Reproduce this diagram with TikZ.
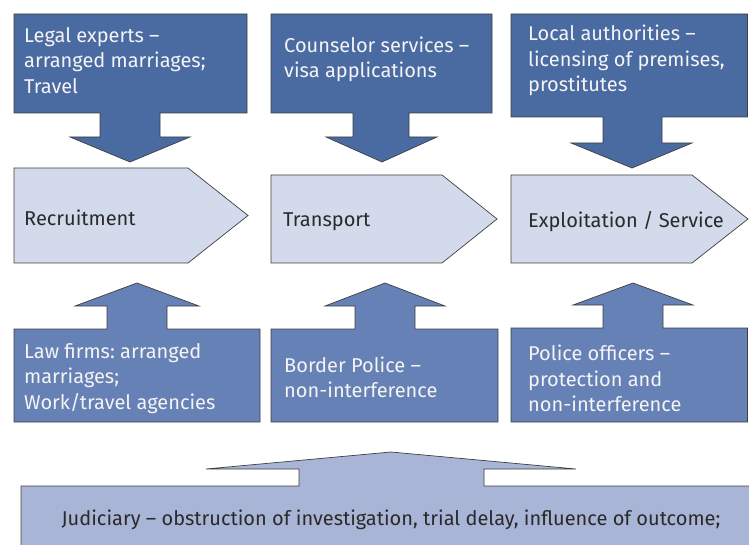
\documentclass[tikz,border=0pt]{standalone}
\usepackage{fontspec}
\setmainfont{Fira Sans}
\definecolor{topblue}{HTML}{4A6AA2}
\definecolor{botblue}{HTML}{6681B5}
\definecolor{pentafill}{HTML}{D2DAEB}
\definecolor{judifill}{HTML}{A9B5D6}
\definecolor{edgegray}{HTML}{3F3F3F}
\definecolor{lighttext}{HTML}{F4F4F4}
\definecolor{darktext}{HTML}{2A2A2A}
\begin{document}
\frenchspacing
\begin{tikzpicture}[x=1pt,y=-1pt,
  cbase/.style={draw=edgegray,line width=0.7pt,line join=miter},
  topcall/.style={cbase,fill=topblue},
  botcall/.style={cbase,fill=botblue},
  pentashape/.style={cbase,fill=pentafill},
  judishape/.style={cbase,fill=judifill},
  lbl/.style={inner sep=0pt,anchor=west,align=left,font=\fontsize{20}{25.5}\selectfont\frenchspacing},
  ltxt/.style={lbl,text=lighttext},
  dtxt/.style={lbl,text=darktext}]
\useasboundingbox (0,0) rectangle (749,545);
\clip (0,0) rectangle (749,545);
% top callouts (down arrows)
\draw[topcall] (14,14) -- (247,14) -- (247,113) -- (160,113) -- (160,137) -- (190,137) -- (130,162) -- (70,137) -- (100,137) -- (100,113) -- (14,113) -- cycle;
\draw[topcall] (271,14) -- (492,14) -- (492,113) -- (409,113) -- (409,137) -- (437,137) -- (382,162) -- (326,137) -- (353,137) -- (353,113) -- (271,113) -- cycle;
\draw[topcall] (511,14) -- (747.5,14) -- (747.5,117) -- (662,117) -- (662,143) -- (692,143) -- (632,168) -- (571,143) -- (603,143) -- (603,117) -- (511,117) -- cycle;
\node[ltxt] (t1) at (24,60.5) {Legal experts –\\arranged marriages;\\Travel};
\node[ltxt] (t2) at (284,59.5) {Counselor services –\\visa applications};
\node[ltxt] (t3) at (528,60.5) {Local authorities –\\licensing of premises,\\prostitutes};
% process pentagons
\draw[pentashape] (14,168) -- (188,168) -- (248,215.5) -- (188,263) -- (14,263) -- cycle;
\draw[pentashape] (271,175) -- (442,175) -- (497,219) -- (442,263) -- (271,263) -- cycle;
\draw[pentashape] (511,175) -- (692,175) -- (748,219) -- (692,263) -- (511,263) -- cycle;
\node[dtxt] (p1) at (24,217.5) {Recruitment};
\node[dtxt] (p2) at (283,221.5) {Transport};
\node[dtxt] (p3) at (528,221.5) {Exploitation / Service};
% bottom callouts (up arrows)
\draw[botcall] (14,422) -- (260,422) -- (260,329) -- (167,329) -- (167,306) -- (199,306) -- (137,283) -- (75,306) -- (107,306) -- (107,329) -- (14,329) -- cycle;
\draw[botcall] (271,422) -- (498,422) -- (498,329) -- (415,329) -- (415,306) -- (445,306) -- (385,283) -- (325,306) -- (355,306) -- (355,329) -- (271,329) -- cycle;
\draw[botcall] (511,422) -- (747.5,422) -- (747.5,328) -- (663,328) -- (663,305) -- (693,305) -- (633,283) -- (573,305) -- (603,305) -- (603,328) -- (511,328) -- cycle;
\node[ltxt] (b1) at (24,378.5) {Law firms: arranged\\marriages;\\Work/travel agencies};
\node[ltxt] (b2) at (284,377.5) {Border Police –\\non-interference};
\node[ltxt] (b3) at (528,378.5) {Police officers –\\protection and\\non-interference};
% judiciary
\draw[judishape] (21,560) -- (21,486) -- (299,486) -- (299,469) -- (206,469) -- (391,452) -- (576,469) -- (484,469) -- (484,486) -- (770,486) -- (770,560) -- cycle;
\node[dtxt,anchor=center] (j) at (391,520) {Judiciary – obstruction of investigation, trial delay, influence of outcome;};
\end{tikzpicture}
\end{document}
